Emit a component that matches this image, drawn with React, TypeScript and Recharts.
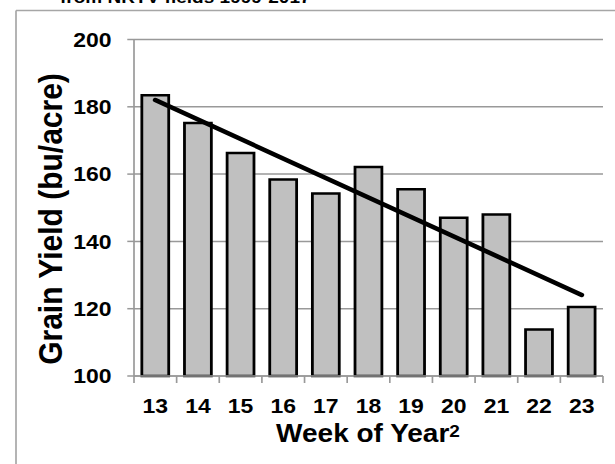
import { Bar, CartesianGrid, ComposedChart, Line, XAxis, YAxis } from "recharts";

// week of year (categories)
const weeks = ["13", "14", "15", "16", "17", "18", "19", "20", "21", "22", "23"];
// grain yield, bu/acre
const yieldValues = [183.4, 175.2, 166.3, 158.4, 154.2, 162.1, 155.5, 147.0, 148.0, 113.8, 120.5];
// trend line end points
const trendValues = [182.0, null, null, null, null, null, null, null, null, null, 124.1];
const yTicks = [100, 120, 140, 160, 180, 200];

const data = weeks.map((week, i) => ({
  week,
  yield: yieldValues[i],
  trend: trendValues[i],
}));

// the reference is stretched horizontally a bit, so the whole chart is too
const S = 1.12;
const W = 615 / S;
const H = 464;
const PLOT_LEFT = 134 / S;
const PLOT_RIGHT = 603 / S;
const BAND = (PLOT_RIGHT - PLOT_LEFT) / weeks.length;
const FONT = '"Liberation Sans", Arial, sans-serif';

function WeekTick(props: any) {
  const { x, y, payload, index } = props;
  const left = x - BAND / 2;
  return (
    <g>
      <line x1={left} x2={left} y1={y} y2={y + 7} stroke="#999" strokeWidth={1.5} />
      {index === weeks.length - 1 && (
        <line x1={x + BAND / 2} x2={x + BAND / 2} y1={y} y2={y + 7} stroke="#999" strokeWidth={1.5} />
      )}
      <text
        x={x}
        y={y + 37}
        textAnchor="middle"
        fontFamily={FONT}
        fontWeight="bold"
        fontSize={20.5}
        fill="#000"
      >
        {payload.value}
      </text>
    </g>
  );
}

export default function App() {
  return (
    <div
      style={{
        position: "fixed",
        left: 0,
        top: 0,
        width: 615,
        height: H,
        overflow: "hidden",
        background: "#fff",
      }}
    >
      <div
        style={{
          position: "absolute",
          left: 0,
          top: 0,
          width: W,
          height: H,
          transform: `scaleX(${S})`,
          transformOrigin: "0 0",
        }}
      >
        <ComposedChart
          width={W}
          height={H}
          data={data}
          margin={{ top: 39.5, right: W - PLOT_RIGHT, left: 0, bottom: 0 }}
        >
          <CartesianGrid stroke="#999" strokeWidth={1.5} vertical={false} />
          <XAxis
            dataKey="week"
            height={88}
            stroke="#999"
            strokeWidth={1.5}
            tickLine={false}
            tickSize={0}
            tickMargin={0}
            interval={0}
            tick={<WeekTick />}
          />
          <YAxis
            domain={[100, 200]}
            ticks={yTicks}
            width={PLOT_LEFT}
            stroke="#999"
            strokeWidth={1.5}
            tickSize={6}
            tickMargin={14}
            tick={{ fill: "#000", fontSize: 20.5, fontWeight: "bold", fontFamily: FONT }}
          />
          <Bar
            dataKey="yield"
            barSize={24}
            fill="#c0c0c0"
            stroke="#000"
            strokeWidth={2.5}
            isAnimationActive={false}
          />
          <Line
            dataKey="trend"
            connectNulls
            stroke="#000"
            strokeWidth={4.5}
            strokeLinecap="round"
            dot={false}
            activeDot={false}
            isAnimationActive={false}
          />
        </ComposedChart>
        <svg
          width={W}
          height={H}
          style={{ position: "absolute", left: 0, top: 0, pointerEvents: "none" }}
        >
          <line x1={16 / S} x2={16 / S} y1={10.5} y2={H} stroke="#a6a6a6" strokeWidth={1.5} />
          <line x1={16 / S} x2={W} y1={10.5} y2={10.5} stroke="#a6a6a6" strokeWidth={1.5} />
          <text x={60 / S} y={3} fontFamily={FONT} fontWeight="bold" fontSize={17} fill="#000">
            from NRTV fields 1999-2017
          </text>
          <text
            transform={`translate(${50 / S},219) rotate(-90)`}
            textAnchor="middle"
            dominantBaseline="central"
            fontFamily={FONT}
            fontWeight="bold"
            fontSize={30}
            fill="#000"
          >
            Grain Yield (bu/acre)
          </text>
          <text
            x={368 / S}
            y={441.7}
            textAnchor="middle"
            fontFamily={FONT}
            fontWeight="bold"
            fontSize={25}
            fill="#000"
          >
            Week of Year
            <tspan fontSize={17} dy={-5}>
              2
            </tspan>
          </text>
        </svg>
      </div>
    </div>
  );
}
